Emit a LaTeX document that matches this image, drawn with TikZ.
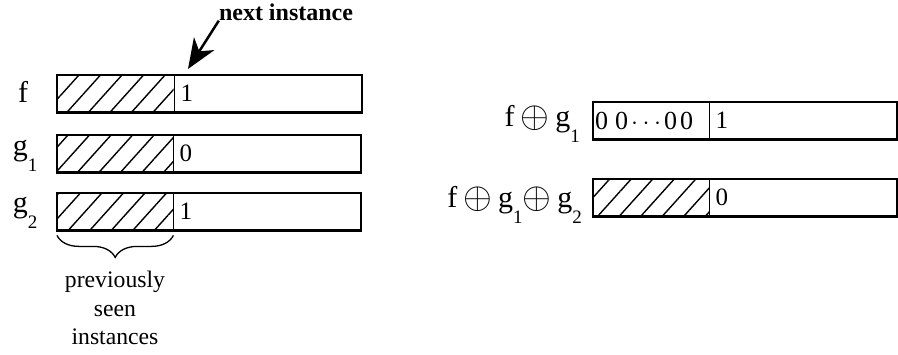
\documentclass[tikz,border=0pt]{standalone}
\usepackage{fontspec}
\setmainfont{Liberation Serif}
\usetikzlibrary{positioning, arrows.meta, patterns.meta, decorations.pathreplacing}

\newcommand{\lowsub}[1]{\raisebox{-0.55em}{\fontsize{19}{19}\selectfont #1}}
\newcommand{\xorsign}{{\fontsize{10}{12}\selectfont\raisebox{-1.5pt}{\scalebox{3.7}{$\oplus$}}}}

\begin{document}
\begin{tikzpicture}[
    x=1pt, y=-1pt,
    seen/.style={minimum width=116pt, minimum height=37pt, inner sep=0pt, anchor=north west,
        pattern={Lines[angle=48, distance=16pt, line width=1.4pt]}},
    zeros/.style={text width=112pt, inner xsep=2pt, inner ysep=0pt, minimum height=37pt,
        align=left, anchor=north west, font=\fontsize{26}{28}\selectfont},
    value/.style={text width=175pt, inner xsep=6pt, inner ysep=0pt, minimum height=37pt,
        align=left, anchor=north west, font=\fontsize{25}{28}\selectfont},
    bar/.style={line width=2.6pt},
    divider/.style={line width=1pt},
    fname/.style={font=\fontsize{30}{32}\selectfont, inner sep=0pt, anchor=base},
    xname/.style={font=\fontsize{30}{32}\selectfont, inner sep=0pt, anchor=base east},
    pointer/.style={-{Stealth[length=30pt, width=24pt, inset=9pt]}, line width=2.5pt},
    brace/.style={decorate, decoration={brace, amplitude=22pt, raise=5pt}, line width=1.3pt},
    note/.style={font=\fontsize{23.7}{28.5}\selectfont, align=center}
]
    \useasboundingbox (0,0) rectangle (898,354);

    % Bars on the left
    \node[seen] (fseen) at (57,75) {};
    \node[value] (fval) at (fseen.north east) {1};
    \node[seen] (gaseen) at (57,135) {};
    \node[value] (gaval) at (gaseen.north east) {0};
    \node[seen] (gbseen) at (57,193) {};
    \node[value] (gbval) at (gbseen.north east) {1};

    % Bars on the right
    \node[zeros] (xaseen) at (593,102)
        {0\hspace{7pt}0\hspace{3pt}\makebox[30pt]{$\cdot$\hfill$\cdot$\hfill$\cdot$}\hspace{3pt}0\hspace{3pt}0};
    \node[value] (xaval) at (xaseen.north east) {1};
    \node[seen] (xbseen) at (593,179) {};
    \node[value] (xbval) at (xbseen.north east) {0};

    % Outlines and dividers
    \foreach \row in {f, ga, gb, xa, xb} {
        \draw[bar] (\row seen.north west) rectangle (\row val.south east);
        \draw[divider] (\row val.north west) -- (\row val.south west);
    }

    % Names of the functions
    \node[fname] (flbl) at (23,102) {f};
    \node[fname] (galbl) at (25,155) {g\lowsub{1}};
    \node[fname] (gblbl) at (25,212) {g\lowsub{2}};
    \node[xname] (xalbl) at (580,126)
        {f\hspace{6pt}\xorsign\hspace{6pt}g\lowsub{1}};
    \node[xname] (xblbl) at (582,207)
        {f\hspace{6pt}\xorsign\hspace{6pt}g\lowsub{1}\xorsign\hspace{6pt}g\lowsub{2}};

    % Next instance
    \node[font=\fontsize{24}{28}\selectfont\bfseries, inner sep=0pt] (nextlbl) at (286,12) {next instance};
    \coordinate (nexttip) at (188,69);
    \draw[pointer] (nextlbl.south west) -- (nexttip);

    % Previously seen instances
    \draw[brace] (gbseen.south east) -- (gbseen.south west);
    \node[note] (seenlbl) at (115,308) {previously\\seen\\instances};

\end{tikzpicture}
\end{document}
